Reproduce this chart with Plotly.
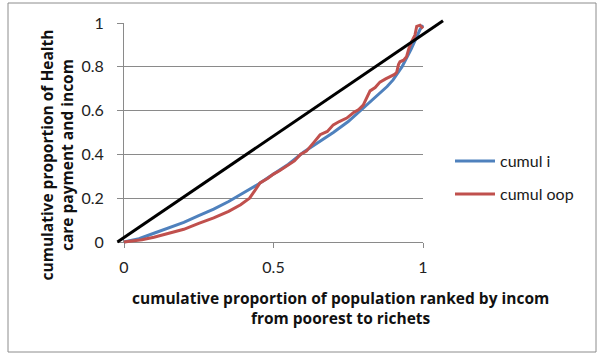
import plotly.graph_objects as go

# ---- data ----
pop_i = [0, 0.05, 0.1, 0.15, 0.2, 0.25, 0.3, 0.35, 0.4, 0.45, 0.5, 0.55, 0.6, 0.65,
         0.7, 0.75, 0.8, 0.85, 0.88, 0.9, 0.93, 0.96, 0.98, 0.99, 1.0]
cumul_i = [0, 0.015, 0.04, 0.065, 0.09, 0.12, 0.15, 0.185, 0.225, 0.265, 0.31, 0.355,
           0.41, 0.455, 0.5, 0.55, 0.61, 0.67, 0.71, 0.74, 0.80, 0.88, 0.94, 0.97, 0.99]

pop_oop = [0, 0.03, 0.06, 0.1, 0.15, 0.2, 0.25, 0.3, 0.35, 0.39, 0.42, 0.44, 0.455,
           0.48, 0.5, 0.52, 0.55, 0.57, 0.59, 0.61, 0.635, 0.656, 0.68, 0.70, 0.72,
           0.745, 0.767, 0.785, 0.80, 0.823, 0.84, 0.856, 0.875, 0.89, 0.905, 0.912,
           0.918, 0.923, 0.935, 0.945, 0.953, 0.962, 0.968, 0.973, 0.979, 0.99, 1.0]
cumul_oop = [0, 0.004, 0.01, 0.022, 0.04, 0.058, 0.085, 0.11, 0.14, 0.17, 0.2, 0.24,
             0.27, 0.29, 0.31, 0.325, 0.35, 0.37, 0.40, 0.415, 0.455, 0.49, 0.505,
             0.535, 0.55, 0.566, 0.59, 0.605, 0.625, 0.69, 0.705, 0.73, 0.745, 0.755,
             0.765, 0.775, 0.81, 0.823, 0.83, 0.846, 0.885, 0.915, 0.93, 0.945, 0.985,
             0.99, 0.975]

equality_x = [-0.022, 1.067]
equality_y = [0.0, 1.01]

y_ticks = [0, 0.2, 0.4, 0.6, 0.8, 1]
y_tick_text = ["0", "0.2", "0.4", "0.6", "0.8", "1"]
x_ticks = [0, 0.5, 1]
x_tick_text = ["0", "0.5", "1"]

series_names = ["cumul i", "cumul oop"]
x_title_lines = ["cumulative proportion of population ranked by incom",
                 "from poorest to richets"]
y_title_lines = ["cumulative proportion of Health", "care payment and incom"]

# ---- layout geometry (pixels of the 598x353 canvas) ----
W, H = 598, 353
def fx(p):
    return p / W
def fy(p):
    return 1 - p / H

X0, X1 = 124, 423   # pixel of x=0 and x=1
Y0, Y1 = 242, 23    # pixel of y=0 and y=1
XR = [-0.05, 1.1]
YR = [-0.03, 1.05]

FONT = "Lato"
TFONT = "Open Sans"
GRID = "#8a8a8a"
BLUE = "#4F81BD"
RED = "#C0504D"

fig = go.Figure()

# invisible carrier so the main (gridded) axes get drawn
fig.add_trace(go.Scatter(x=pop_i, y=cumul_i, mode="lines", opacity=0,
                         showlegend=False, hoverinfo="skip",
                         line=dict(width=0), xaxis="x", yaxis="y"))

fig.add_trace(go.Scatter(x=pop_i, y=cumul_i, mode="lines", name=series_names[0],
                         line=dict(color=BLUE, width=3), xaxis="x2", yaxis="y2",
                         legend="legend"))
fig.add_trace(go.Scatter(x=pop_oop, y=cumul_oop, mode="lines", name=series_names[1],
                         line=dict(color=RED, width=3), xaxis="x2", yaxis="y2",
                         legend="legend2"))
fig.add_trace(go.Scatter(x=equality_x, y=equality_y, mode="lines", showlegend=False,
                         line=dict(color="black", width=3), xaxis="x2", yaxis="y2"))

axis_font = dict(family=FONT, size=16, color="#222222")
leg_font = dict(family=FONT, size=16, color="#1a1a1a")
title_font = dict(family=TFONT, size=15.5, color="#111111")

fig.update_layout(
    width=W, height=H,
    margin=dict(l=0, r=0, t=0, b=0, autoexpand=False),
    paper_bgcolor="white",
    plot_bgcolor="rgba(0,0,0,0)",
    font=dict(family=FONT, size=15, color="#222222"),
    xaxis=dict(domain=[fx(X0), fx(X1)], range=[0, 1], tickvals=x_ticks,
               ticktext=x_tick_text, showgrid=False, zeroline=False,
               showline=True, linecolor=GRID, linewidth=1, ticks="outside",
               ticklen=5, tickcolor=GRID, tickfont=axis_font,
               ticklabelstandoff=6, anchor="y", fixedrange=True),
    yaxis=dict(domain=[fy(Y0), fy(Y1)], range=[0, 1], tickvals=y_ticks,
               ticktext=y_tick_text, showgrid=True, gridcolor=GRID, gridwidth=1,
               zeroline=False, showline=True, linecolor=GRID, linewidth=1,
               ticks="outside", ticklen=6, tickcolor=GRID, tickfont=axis_font,
               ticklabelstandoff=10, anchor="x", fixedrange=True),
    xaxis2=dict(domain=[fx(X0 + XR[0] * (X1 - X0)), fx(X0 + XR[1] * (X1 - X0))],
                range=XR, visible=False, anchor="y2", fixedrange=True),
    yaxis2=dict(domain=[fy(Y0 - YR[0] * (Y0 - Y1)), fy(Y0 - YR[1] * (Y0 - Y1))],
                range=YR, visible=False, anchor="x2", fixedrange=True),
    legend=dict(x=fx(450), y=fy(161), xanchor="left", yanchor="middle",
                itemwidth=40, bgcolor="rgba(0,0,0,0)", font=leg_font),
    legend2=dict(x=fx(450), y=fy(194), xanchor="left", yanchor="middle",
                 itemwidth=40, bgcolor="rgba(0,0,0,0)", font=leg_font),
    shapes=[dict(type="rect", xref="paper", yref="paper",
                 x0=fx(8), x1=fx(596), y0=fy(352), y1=fy(3),
                 line=dict(color="#8c8c8c", width=1), layer="above")],
    annotations=[
        dict(text="<br>".join("<b>" + s + "</b>" for s in x_title_lines),
             xref="paper", yref="paper",
             x=fx(340), y=fy(307.5), xanchor="center", yanchor="middle",
             showarrow=False, align="center", font=title_font),
        dict(text="<br>".join("<b>" + s + "</b>" for s in y_title_lines),
             xref="paper", yref="paper",
             x=fx(56.5), y=fy(155), xanchor="center", yanchor="middle",
             showarrow=False, align="center", textangle=-90, font=title_font),
    ],
)

fig.write_html("out.html",
               config={"displayModeBar": False, "staticPlot": True},
               post_script="document.body.style.margin='0';"
                           "document.body.style.overflow='hidden';")
